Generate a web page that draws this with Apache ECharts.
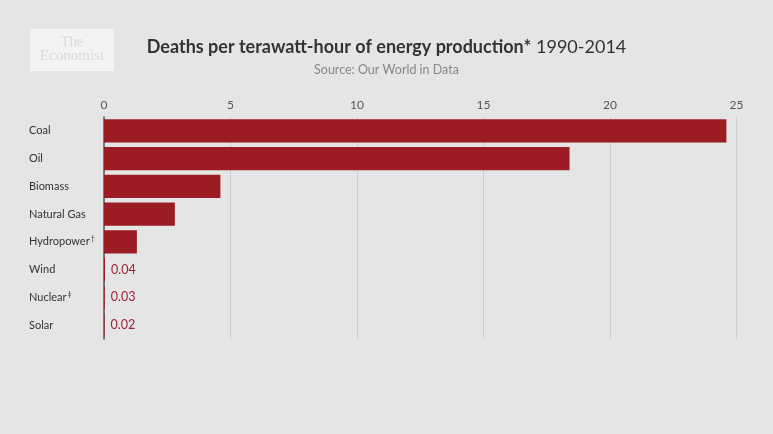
<!DOCTYPE html>
<html>
<head>
<meta charset="utf-8">
<script src="https://cdn.jsdelivr.net/npm/echarts@6/dist/echarts.min.js"></script>
<style>
html,body{margin:0;padding:0;background:#e5e5e5;}
#c{width:773px;height:434px;}
</style>
</head>
<body>
<div id="c"></div>
<script>
const categories = ['Coal','Oil','Biomass','Natural Gas','Hydropower\u2020','Wind','Nuclear\u2021','Solar'];
const values = [24.6, 18.4, 4.6, 2.8, 1.3, 0.04, 0.03, 0.02];
const tickValues = [0, 5, 10, 15, 20, 25];

const chart = echarts.init(document.getElementById('c'));
chart.setOption({
  backgroundColor: '#e5e5e5',
  animation: false,
  title: [{
    text: '{b|Deaths per terawatt-hour of energy production*} {n|1990-2014}',
    left: 'center',
    top: 33,
    textStyle: {
      rich: {
        b: {fontFamily: 'Lato', fontWeight: 'bold', fontSize: 18, color: '#333'},
        n: {fontFamily: 'Lato', fontWeight: 'normal', fontSize: 18, color: '#333'}
      }
    }
  }, {
    text: 'Source: Our World in Data',
    left: 'center',
    top: 58,
    textStyle: {fontFamily: 'Lato', fontWeight: 'normal', fontSize: 12.5, color: '#888'}
  }],
  graphic: [
    {type: 'rect', shape: {x: 30, y: 29, width: 84, height: 42}, style: {fill: '#f3f3f3'}},
    {type: 'text', x: 72, y: 42, style: {text: 'The', fontFamily: 'Liberation Serif', fontSize: 14, fill: '#dadada', align: 'center', verticalAlign: 'middle'}},
    {type: 'text', x: 72, y: 56, style: {text: 'Economist', fontFamily: 'Liberation Serif', fontSize: 15, fill: '#dadada', align: 'center', verticalAlign: 'middle'}}
  ],
  grid: {left: 104, right: 36.5, top: 117, height: 222, containLabel: false},
  xAxis: {
    type: 'value',
    position: 'top',
    min: 0, max: 25, interval: 5,
    axisLine: {show: false},
    axisTick: {show: false},
    axisLabel: {
      color: '#555', fontFamily: 'Lato', fontSize: 12, margin: 6,
      formatter: v => tickValues.includes(v) ? String(v) : ''
    },
    splitLine: {lineStyle: {color: '#cdcdcd', width: 1}}
  },
  yAxis: {
    type: 'category',
    inverse: true,
    data: categories,
    axisLine: {show: true, lineStyle: {color: '#555', width: 1.5}},
    axisTick: {show: false},
    axisLabel: {
      color: '#333', fontFamily: 'Lato', fontSize: 11, align: 'left', margin: 75,
      formatter: v => v.replace(/([\u2020\u2021])/, '{s|$1}'),
      rich: {s: {fontFamily: 'Lato', fontSize: 7, color: '#333', verticalAlign: 'top', padding: [0, 0, 6, 1]}}
    }
  },
  series: [{
    type: 'bar',
    data: values,
    barCategoryGap: '17%',
    itemStyle: {color: '#9c1c23'},
    label: {
      show: true,
      position: 'right',
      distance: 6,
      color: '#9b2335',
      fontFamily: 'Lato',
      fontSize: 12.5,
      formatter: p => p.value < 0.1 ? p.value.toFixed(2) : ''
    }
  }]
});
</script>
</body>
</html>
